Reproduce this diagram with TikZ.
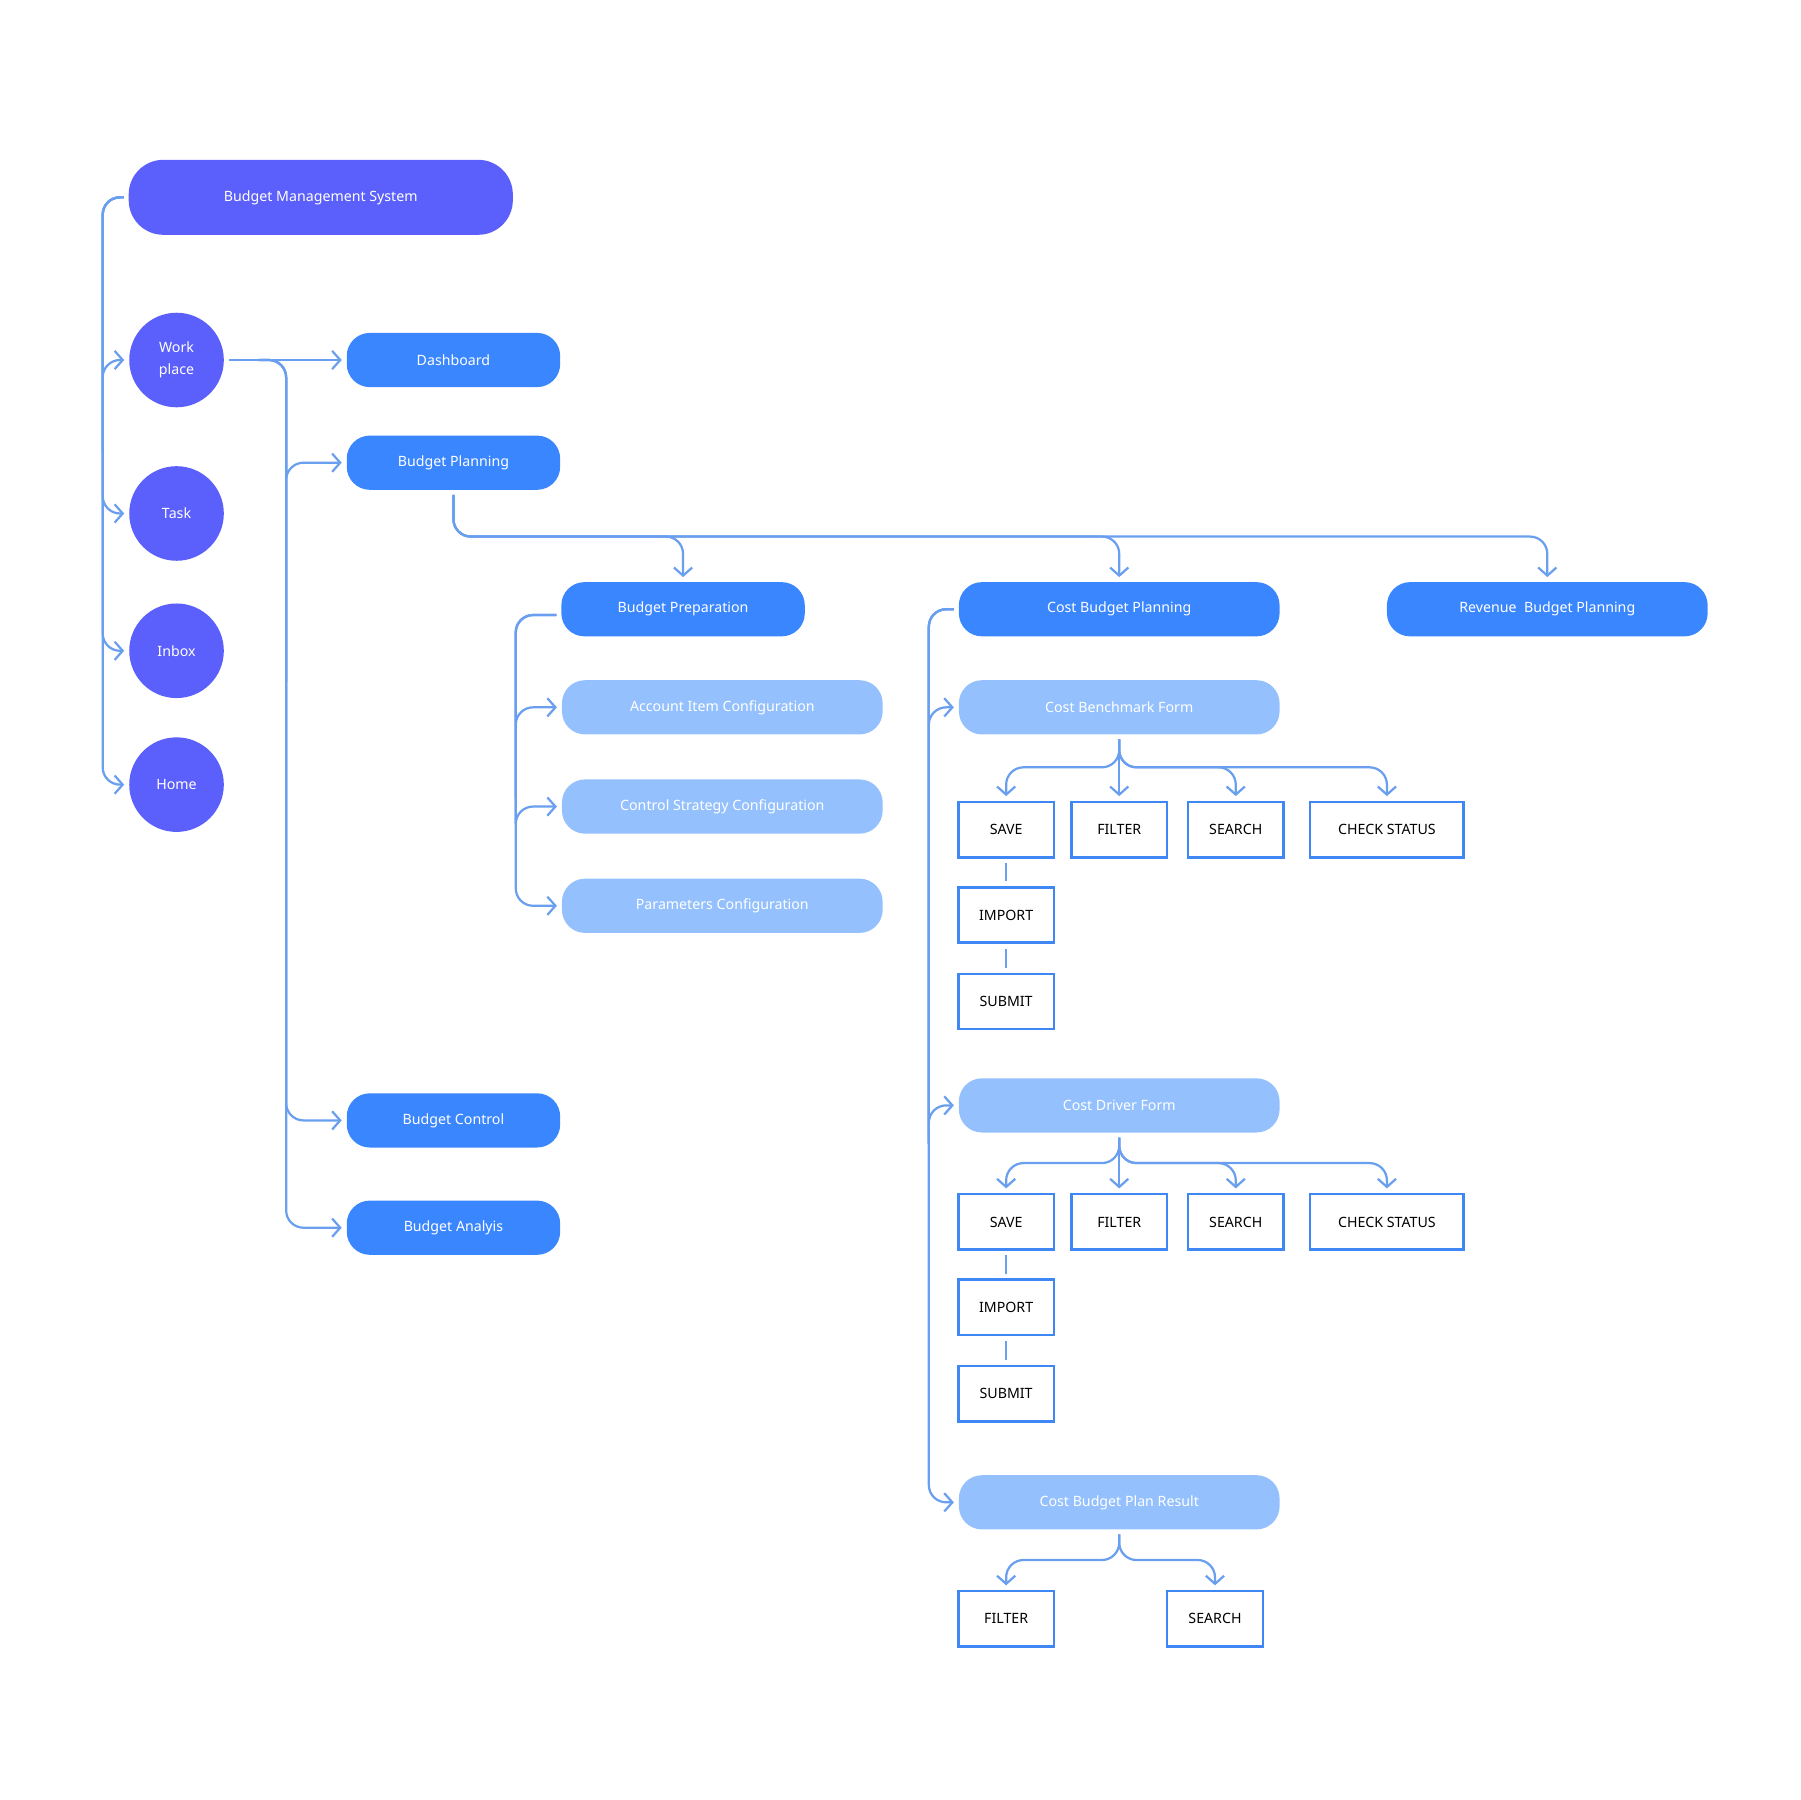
\documentclass[tikz,border=0pt]{standalone}
\usepackage{fontspec}
\setmainfont{Noto Sans}
\usetikzlibrary{arrows.meta, positioning, calc}
\definecolor{indigo}{HTML}{5B5FFB}
\definecolor{mainblue}{HTML}{3A86FF}
\definecolor{lightblue}{HTML}{94C1FD}
\definecolor{linkblue}{HTML}{6A9FEF}
\definecolor{btnblue}{HTML}{3F87F5}

\tikzset{
  base/.style={text=white, font=\fontsize{7}{8}\selectfont\bfseries, inner sep=0pt, align=center},
  sysbox/.style={base, fill=indigo, rounded corners=0.6cm, minimum width=6.66cm, minimum height=1.3cm},
  menu/.style={base, fill=indigo, circle, minimum size=1.64cm},
  module/.style={base, fill=mainblue, rounded corners=0.4cm, minimum width=3.7cm, minimum height=0.94cm},
  wide/.style={module, minimum width=5.56cm},
  sub/.style={base, fill=lightblue, rounded corners=0.4cm, minimum width=5.56cm, minimum height=0.94cm},
  btn/.style={base, text=black, draw=btnblue, line width=1.2pt, fill=white, minimum width=1.66cm, minimum height=0.96cm},
  link/.style={draw=linkblue, line width=1.1pt, rounded corners=0.3cm, -{Straight Barb[length=4pt, width=9pt, line width=1.1pt]}},
  plain/.style={draw=linkblue, line width=1.1pt}
}

\begin{document}
\begin{tikzpicture}[x=0.02cm, y=-0.02cm]
\useasboundingbox (0,0) rectangle (1560,1560);

% system and menu
\node[sysbox] (bms) at (278,171) {Budget Management System};
\node[menu] (wp) at (153,312) {Work\\[3pt]place};
\node[menu] (task) at (153,445) {Task};
\node[menu] (inbox) at (153,564) {Inbox};
\node[menu] (home) at (153,680) {Home};

\foreach \m in {wp, task, inbox, home}
  \draw[link] ($(bms.west)+(-4,0)$) -| (89,400) |- ($(\m.west)+(-4,0)$);

% work place modules
\node[module] (dash) at (393,312) {Dashboard};
\node[module] (bp) at (393,401) {Budget Planning};
\node[module] (bc) at (393,971) {Budget Control};
\node[module] (ba) at (393,1064) {Budget Analyis};

\draw[link, rounded corners=0pt] ($(wp.east)+(4,0)$) -- ($(dash.west)+(-4,0)$);
\foreach \m in {bp, bc, ba}
  \draw[link] ($(wp.east)+(30,0)$) -| (248,600) |- ($(\m.west)+(-4,0)$);

% budget planning
\node[module, minimum width=4.22cm] (prep) at (592,528) {Budget Preparation};
\node[wide] (cbp) at (970,528) {Cost Budget Planning};
\node[wide] (rbp) at (1341,528) {Revenue\ \ Budget Planning};

\coordinate (busA) at (0,465);
\foreach \m in {prep, cbp, rbp}
  \draw[link] ($(bp.south)+(0,4)$) |- (busA -| \m.north) -- ($(\m.north)+(0,-4)$);

% budget preparation
\node[sub] (aic) at (626,613) {Account Item Configuration};
\node[sub] (csc) at (626,699) {Control Strategy Configuration};
\node[sub] (pc) at (626,785) {Parameters Configuration};

\foreach \m in {aic, csc, pc}
  \draw[link] ($(prep.west)+(-4,5)$) -| (447,700) |- ($(\m.west)+(-4,0)$);

% cost budget planning
\node[sub] (cbf) at (970,613) {Cost Benchmark Form};
\node[sub] (cdf) at (970,958) {Cost Driver Form};
\node[sub] (cbr) at (970,1302) {Cost Budget Plan Result};

\foreach \m in {cbf, cdf, cbr}
  \draw[link] ($(cbp.west)+(-4,0)$) -| (805,1000) |- ($(\m.west)+(-4,0)$);

% benchmark form actions
\node[btn] (saveA) at (872,719) {SAVE};
\node[btn] (filterA) at (970,719) {FILTER};
\node[btn] (searchA) at (1071,719) {SEARCH};
\node[btn, minimum width=2.66cm] (checkA) at (1202,719) {CHECK STATUS};
\node[btn] (importA) at (872,793) {IMPORT};
\node[btn] (submitA) at (872,868) {SUBMIT};

\coordinate (fkA) at (0,665);
\foreach \m in {saveA, searchA, checkA}
  \draw[link] ($(cbf.south)+(0,4)$) |- (fkA -| \m.north) -- ($(\m.north)+(0,-4)$);
\draw[link] ($(cbf.south)+(0,4)$) -- ($(filterA.north)+(0,-4)$);
\draw[plain] ($(saveA.south)+(0,4)$) -- ($(importA.north)+(0,-4)$);
\draw[plain] ($(importA.south)+(0,4)$) -- ($(submitA.north)+(0,-4)$);

% driver form actions
\node[btn] (saveB) at (872,1059) {SAVE};
\node[btn] (filterB) at (970,1059) {FILTER};
\node[btn] (searchB) at (1071,1059) {SEARCH};
\node[btn, minimum width=2.66cm] (checkB) at (1202,1059) {CHECK STATUS};
\node[btn] (importB) at (872,1133) {IMPORT};
\node[btn] (submitB) at (872,1208) {SUBMIT};

\coordinate (fkB) at (0,1008);
\foreach \m in {saveB, searchB, checkB}
  \draw[link] ($(cdf.south)+(0,4)$) |- (fkB -| \m.north) -- ($(\m.north)+(0,-4)$);
\draw[link] ($(cdf.south)+(0,4)$) -- ($(filterB.north)+(0,-4)$);
\draw[plain] ($(saveB.south)+(0,4)$) -- ($(importB.north)+(0,-4)$);
\draw[plain] ($(importB.south)+(0,4)$) -- ($(submitB.north)+(0,-4)$);

% plan result actions
\node[btn] (filterC) at (872,1403) {FILTER};
\node[btn] (searchC) at (1053,1403) {SEARCH};

\coordinate (fkC) at (0,1352);
\foreach \m in {filterC, searchC}
  \draw[link] ($(cbr.south)+(0,4)$) |- (fkC -| \m.north) -- ($(\m.north)+(0,-4)$);
\end{tikzpicture}
\end{document}
